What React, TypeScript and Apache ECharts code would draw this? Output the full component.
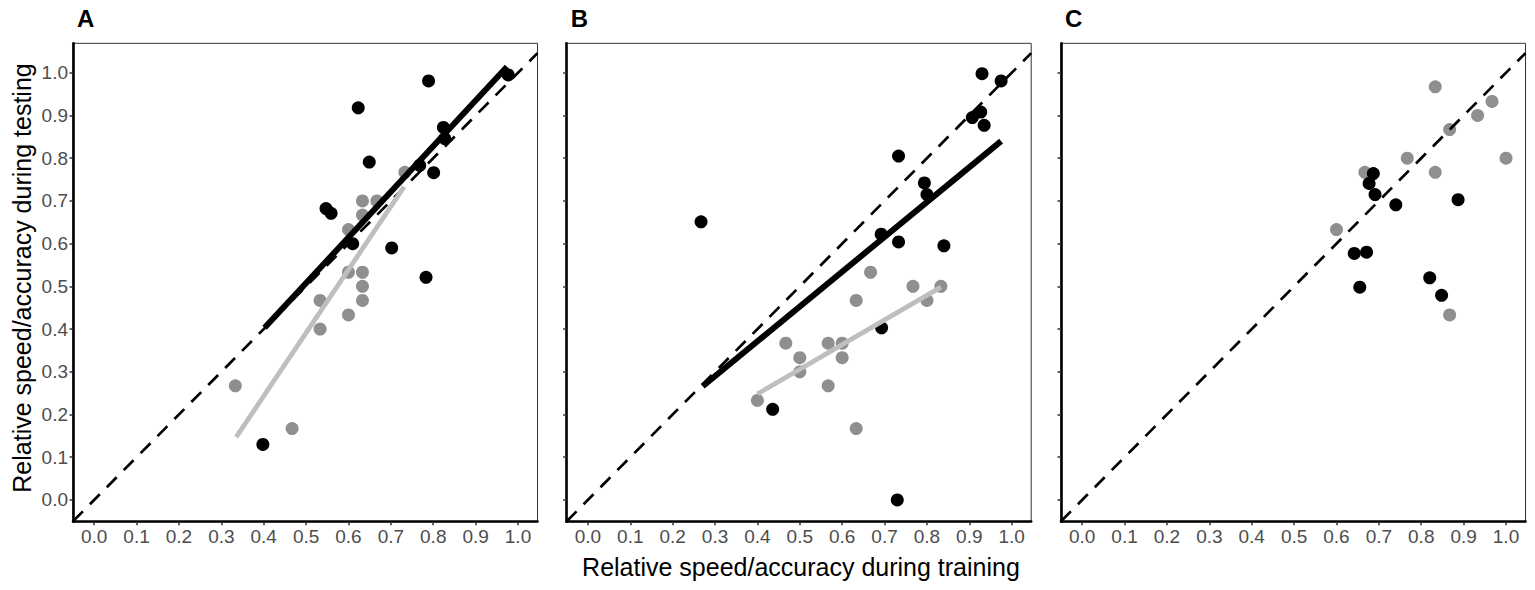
import React, { useEffect, useRef } from "react";
import * as echarts from "echarts";

// ---- Data ----
const tickValues = [0, 0.1, 0.2, 0.3, 0.4, 0.5, 0.6, 0.7, 0.8, 0.9, 1.0];
const panelLabels = ["A", "B", "C"];

const aGray = [
  [0.333, 0.267], [0.467, 0.167], [0.533, 0.467], [0.533, 0.4], [0.6, 0.633],
  [0.6, 0.533], [0.6, 0.433], [0.633, 0.7], [0.633, 0.667], [0.633, 0.533],
  [0.633, 0.5], [0.633, 0.467], [0.667, 0.7], [0.733, 0.767],
];
const aBlack = [
  [0.977, 0.995], [0.789, 0.981], [0.623, 0.918], [0.824, 0.872], [0.827, 0.846],
  [0.649, 0.791], [0.768, 0.783], [0.801, 0.766], [0.547, 0.682], [0.559, 0.671],
  [0.61, 0.6], [0.702, 0.59], [0.783, 0.521], [0.398, 0.13],
];
const aGrayFit = [[0.335, 0.147], [0.731, 0.733]];
const aBlackFit = [[0.402, 0.403], [0.974, 1.014]];

const bGray = [
  [0.4, 0.233], [0.467, 0.367], [0.5, 0.333], [0.5, 0.3], [0.567, 0.367],
  [0.567, 0.267], [0.6, 0.367], [0.6, 0.333], [0.633, 0.467], [0.633, 0.167],
  [0.667, 0.533], [0.767, 0.5], [0.8, 0.467], [0.833, 0.5],
];
const bBlack = [
  [0.93, 0.998], [0.975, 0.981], [0.907, 0.895], [0.927, 0.908], [0.935, 0.877],
  [0.733, 0.805], [0.794, 0.742], [0.8, 0.715], [0.267, 0.651], [0.692, 0.622],
  [0.733, 0.604], [0.84, 0.595], [0.693, 0.403], [0.436, 0.212], [0.73, 0.0],
];
const bGrayFit = [[0.4, 0.248], [0.833, 0.498]];
const bBlackFit = [[0.271, 0.266], [0.975, 0.84]];

const cGray = [
  [0.833, 0.967], [0.967, 0.933], [0.933, 0.9], [0.867, 0.867], [0.767, 0.8],
  [1.0, 0.8], [0.833, 0.767], [0.667, 0.767], [0.6, 0.633], [0.867, 0.433],
];
const cBlack = [
  [0.687, 0.764], [0.677, 0.741], [0.691, 0.715], [0.74, 0.691], [0.887, 0.703],
  [0.642, 0.577], [0.671, 0.58], [0.82, 0.52], [0.655, 0.498], [0.848, 0.479],
];

const X_MIN = -0.05;
const X_MAX = 1.046;
const Y_MIN = -0.051;
const Y_MAX = 1.069;
const identityLine = [[X_MIN, X_MIN], [X_MAX, X_MAX]];

const FONT = "'Liberation Sans', Arial, sans-serif";
const GRAY_PT = "#8f8f8f";
const GRAY_LINE = "#bebebe";

export default function App() {
  const ref = useRef<HTMLDivElement>(null);

  useEffect(() => {
    if (!ref.current) return;
    const chart = echarts.init(ref.current, undefined, { renderer: "svg" });

    const gridLefts = [73, 566.7, 1061];
    const gridTop = 43.3;
    const gridW = 464.5;
    const gridH = 478.4;

    const grids = gridLefts.map((l) => ({
      left: l,
      top: gridTop,
      width: gridW,
      height: gridH,
      show: true,
      borderColor: "#333333",
      borderWidth: 1,
      backgroundColor: "transparent",
      outerBoundsMode: "none",
    }));

    const xAxes = gridLefts.map((_, i) => ({
      type: "value",
      gridIndex: i,
      min: X_MIN,
      max: X_MAX,
      splitLine: { show: false },
      axisLine: { show: true, onZero: false, lineStyle: { color: "#000", width: 2.6 } },
      axisTick: {
        show: true,
        customValues: tickValues,
        length: 3.5,
        lineStyle: { color: "#333", width: 1.5 },
      },
      axisLabel: {
        show: true,
        customValues: tickValues,
        formatter: (v: number) => v.toFixed(1),
        color: "#4d4d4d",
        fontSize: 19,
        fontFamily: FONT,
        margin: 5,
      },
    }));

    const yAxes = gridLefts.map((_, i) => ({
      type: "value",
      gridIndex: i,
      min: Y_MIN,
      max: Y_MAX,
      splitLine: { show: false },
      axisLine: { show: true, onZero: false, lineStyle: { color: "#000", width: 2.6 } },
      axisTick: {
        show: true,
        customValues: tickValues,
        length: 3.5,
        lineStyle: { color: "#333", width: 1.5 },
      },
      axisLabel: {
        show: i === 0,
        customValues: tickValues,
        formatter: (v: number) => v.toFixed(1),
        color: "#4d4d4d",
        fontSize: 19,
        fontFamily: FONT,
        margin: 5,
      },
    }));

    const panels = [
      { gray: aGray, black: aBlack, grayFit: aGrayFit, blackFit: aBlackFit },
      { gray: bGray, black: bBlack, grayFit: bGrayFit, blackFit: bBlackFit },
      { gray: cGray, black: cBlack, grayFit: null, blackFit: null },
    ];

    const series: any[] = [];
    panels.forEach((p, i) => {
      series.push({
        type: "scatter",
        xAxisIndex: i,
        yAxisIndex: i,
        data: p.gray,
        symbol: "circle",
        symbolSize: 13,
        itemStyle: { color: GRAY_PT, opacity: 1 },
        z: 2,
      });
      series.push({
        type: "scatter",
        xAxisIndex: i,
        yAxisIndex: i,
        data: p.black,
        symbol: "circle",
        symbolSize: 13,
        itemStyle: { color: "#000", opacity: 1 },
        z: 3,
      });
      series.push({
        type: "line",
        xAxisIndex: i,
        yAxisIndex: i,
        data: identityLine,
        symbol: "none",
        lineStyle: { color: "#000", width: 2.7, type: [14, 10], cap: "butt" },
        z: 4,
      });
      if (p.grayFit) {
        series.push({
          type: "line",
          xAxisIndex: i,
          yAxisIndex: i,
          data: p.grayFit,
          symbol: "none",
          lineStyle: { color: GRAY_LINE, width: 4.8, cap: "butt" },
          z: 5,
        });
      }
      if (p.blackFit) {
        series.push({
          type: "line",
          xAxisIndex: i,
          yAxisIndex: i,
          data: p.blackFit,
          symbol: "none",
          lineStyle: { color: "#000", width: 6, cap: "butt" },
          z: 6,
        });
      }
    });

    const graphics: any[] = panelLabels.map((t, i) => ({
      type: "text",
      left: gridLefts[i] + 4,
      top: 6,
      style: {
        text: t,
        fontSize: 24,
        fontWeight: "bold",
        fontFamily: FONT,
        fill: "#000",
      },
    }));
    graphics.push({
      type: "text",
      x: 22,
      y: 278,
      rotation: Math.PI / 2,
      style: {
        text: "Relative speed/accuracy during testing",
        fontSize: 25,
        fontFamily: FONT,
        fill: "#000",
        textAlign: "center",
        textVerticalAlign: "middle",
      },
    });
    graphics.push({
      type: "text",
      x: gridLefts[1] + gridW / 2 + 2,
      y: 567,
      style: {
        text: "Relative speed/accuracy during training",
        fontSize: 25,
        fontFamily: FONT,
        fill: "#000",
        textAlign: "center",
        textVerticalAlign: "middle",
      },
    });

    chart.setOption({
      animation: false,
      backgroundColor: "#fff",
      grid: grids,
      xAxis: xAxes,
      yAxis: yAxes,
      series,
      graphic: graphics,
    });

    return () => chart.dispose();
  }, []);

  return (
    <div
      ref={ref}
      style={{ position: "fixed", left: 0, top: 0, width: 1535, height: 590 }}
    />
  );
}
